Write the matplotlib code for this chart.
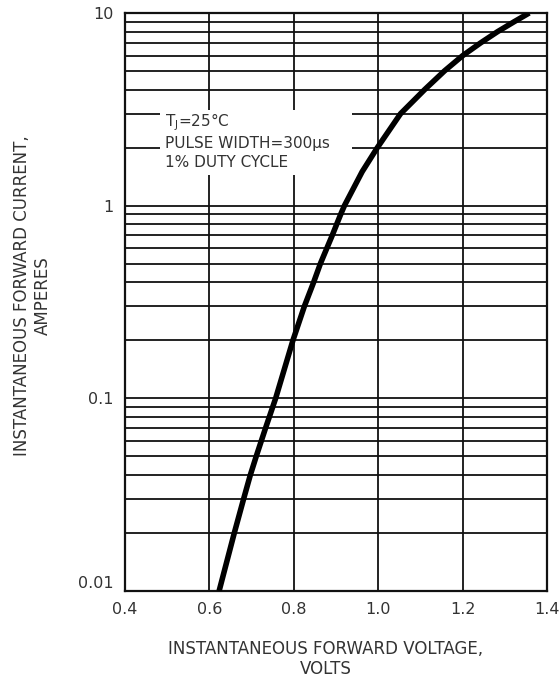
import numpy as np
import matplotlib.pyplot as plt
from matplotlib.ticker import FixedLocator, NullFormatter
from matplotlib.patches import Rectangle

plt.rcParams['font.family'] = ['DejaVu Sans']

# forward voltage (V) vs forward current (A)
volts = [0.623, 0.659, 0.681, 0.697, 0.711, 0.733, 0.757, 0.798, 0.825, 0.847, 0.863, 0.891,
         0.911, 0.920, 0.962, 0.998, 1.053, 1.110, 1.157, 1.200, 1.243, 1.283, 1.322, 1.358]
amps = [0.01, 0.02, 0.03, 0.04, 0.05, 0.07, 0.1, 0.2, 0.3, 0.4, 0.5, 0.7,
        0.9, 1.0, 1.5, 2.0, 3.0, 4.0, 5.0, 6.0, 7.0, 8.0, 9.0, 10.0]

x_ticks = [0.4, 0.6, 0.8, 1.0, 1.2, 1.4]
x_tick_labels = ['0.4', '0.6', '0.8', '1.0', '1.2', '1.4']
y_ticks = [0.01, 0.1, 1, 10]
y_tick_labels = ['0.01', '0.1', '1', '10']
note = 'T$_\\mathregular{J}$=25°C\nPULSE WIDTH=300µs\n1% DUTY CYCLE'

fig = plt.figure(figsize=(5.59, 6.82), dpi=100)
ax = fig.add_axes([0.2236, 0.1334, 0.9785 - 0.2236, 0.981 - 0.1334])

ax.set_yscale('log')
ax.set_xlim(0.4, 1.4)
ax.set_ylim(0.01, 10)

# grid: every 1..9 per decade, vertical at 0.2 V steps
minor_y = [m * 10.0 ** d for d in range(-2, 1) for m in range(2, 10)]
ax.yaxis.set_major_locator(FixedLocator(y_ticks))
ax.yaxis.set_minor_locator(FixedLocator(minor_y))
ax.yaxis.set_minor_formatter(NullFormatter())
ax.set_yticklabels(y_tick_labels)
ax.set_xticks(x_ticks)
ax.set_xticklabels(x_tick_labels)
ax.grid(True, which='both', axis='y', color='#111111', lw=1.3)
ax.grid(True, which='major', axis='x', color='#111111', lw=1.3)
ax.set_axisbelow(True)
ax.tick_params(which='both', length=0, labelsize=11.5, colors='#333333', pad=8)
ax.get_yticklabels()[0].set_va('bottom')

for s in ax.spines.values():
    s.set_linewidth(1.6)
    s.set_color('#111111')

ax.plot(volts, amps, color='black', lw=4, solid_capstyle='butt', zorder=3)

# white panel behind the test conditions note
ax.add_patch(Rectangle((0.083, 0.7197), 0.456, 0.1125, transform=ax.transAxes,
                       facecolor='white', edgecolor='none', zorder=1.5))
ax.text(0.095, 0.830, note, transform=ax.transAxes, fontsize=11, color='#333333',
        va='top', ha='left', linespacing=1.3, zorder=2)

fig.text(0.058, 0.567, 'INSTANTANEOUS FORWARD CURRENT,\nAMPERES', rotation=90,
         ha='center', va='center', fontsize=12, color='#333333', linespacing=1.15)
fig.text(0.583, 0.034, 'INSTANTANEOUS FORWARD VOLTAGE,\nVOLTS',
         ha='center', va='center', fontsize=12, color='#333333', linespacing=1.15)

fig.savefig('out.png', dpi=100)
